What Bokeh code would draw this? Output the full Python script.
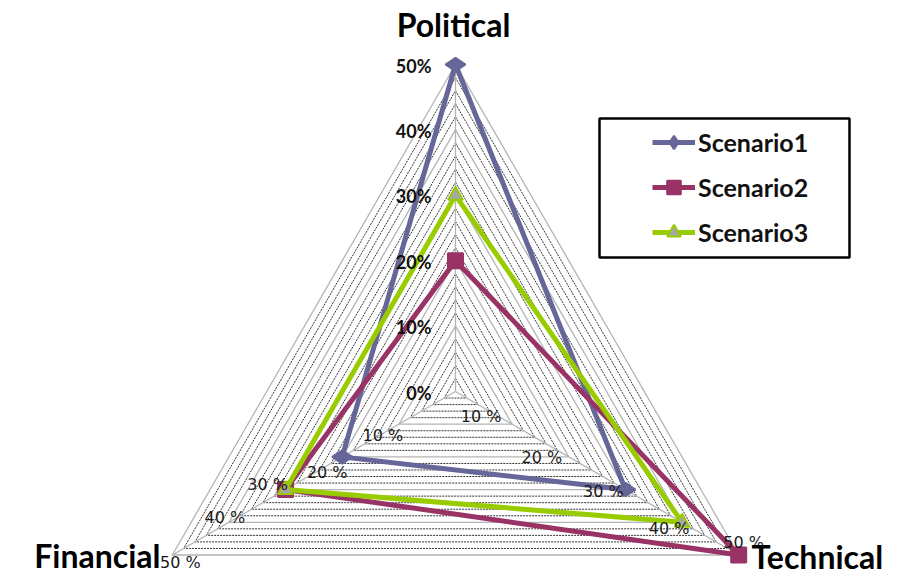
import numpy as np
from bokeh.plotting import figure
from bokeh.models import Legend, LegendItem
from bokeh.embed import file_html
from bokeh.resources import INLINE
from bokeh.core.properties import value

# ---------------- data ----------------
axis_names = ["Political", "Technical", "Financial"]
series_names = ["Scenario1", "Scenario2", "Scenario3"]
scenario1 = [50, 30, 20]
scenario2 = [20, 50, 30]
scenario3 = [30, 40, 30]
tick_values = [0, 10, 20, 30, 40, 50]
political_tick_labels = ["0%", "10%", "20%", "30%", "40%", "50%"]
other_tick_values = [10, 20, 30, 40, 50]
other_tick_labels = ["10 %", "20 %", "30 %", "40 %", "50 %"]
r_max = 50
minor_step = 2

# ---------------- layout ----------------
W, H = 901, 575
cx, cy = 455.0, 391.0
R_px = 327.0
s = R_px / r_max  # px per unit


def px_to_data(px, py):
    return (px - cx) / s, (cy - py) / s


angles = np.deg2rad([90.0, -30.0, 210.0])


def point(r, k):
    return r * np.cos(angles[k]), r * np.sin(angles[k])


def triangle(r):
    xs = [point(r, k)[0] for k in range(3)] + [point(r, 0)[0]]
    ys = [point(r, k)[1] for k in range(3)] + [point(r, 0)[1]]
    return xs, ys


p = figure(width=W, height=H, output_backend="svg", toolbar_location=None,
           x_range=(-cx / s, (W - cx) / s), y_range=(-(H - cy) / s, cy / s),
           min_border=0)
p.axis.visible = False
p.grid.visible = False
p.outline_line_color = None
p.background_fill_color = "white"
p.border_fill_color = "white"

# minor grid (dashed)
minor_levels = [v for v in range(minor_step, r_max, minor_step) if v % 10 != 0]
mx, my = [], []
for v in minor_levels:
    a, b = triangle(v)
    mx.append(a); my.append(b)
p.multi_line(mx, my, line_color="#333333", line_width=1, line_dash="2 1")

# major grid (solid gray)
Mx, My = [], []
for v in tick_values[1:]:
    a, b = triangle(v)
    Mx.append(a); My.append(b)
p.multi_line(Mx, My, line_color="#b4b4b4", line_width=1.3)

# spokes
sx = [[0, point(r_max, k)[0]] for k in range(3)]
sy = [[0, point(r_max, k)[1]] for k in range(3)]
p.multi_line(sx, sy, line_color="#b4b4b4", line_width=1.3)

# series
colors = ["#666699", "#993366", "#99CC00"]
markers = ["diamond", "square", "triangle"]
fills = ["#666699", "#993366", "#A6A6A6"]
sizes = [20, 15, 15]
angles_m = [np.pi / 2, 0, 0]
items = []
for name, vals, col, mk, fc, sz, ang in zip(series_names, [scenario1, scenario2, scenario3],
                                            colors, markers, fills, sizes, angles_m):
    pts = [point(v, k) for k, v in enumerate(vals)]
    xs = [q[0] for q in pts] + [pts[0][0]]
    ys = [q[1] for q in pts] + [pts[0][1]]
    ln = p.line(xs, ys, line_color=col, line_width=5, line_join="miter")
    sc = p.scatter([q[0] for q in pts], [q[1] for q in pts], marker=mk, size=sz,
                   fill_color=fc, line_color=col, line_width=2, angle=ang)
    items.append(LegendItem(label=name, renderers=[ln, sc]))

# legend box
bx0, by0 = px_to_data(599, 257)
bx1, by1 = px_to_data(849, 118)
p.quad(left=bx0, right=bx1, bottom=by0, top=by1, fill_color="white",
       line_color="black", line_width=2.5, level="underlay")

legend = Legend(items=items, location=(652, 575 - 249), padding=0, margin=0,
                glyph_width=43, glyph_height=34, label_height=34, spacing=11,
                label_standoff=3, border_line_color=None, background_fill_alpha=0,
                label_text_font="Lato", label_text_font_size="25px",
                label_text_font_style="bold", label_text_color="#111111")
p.add_layout(legend, "center")

# political tick labels
ptx = [point(v, 0)[0] for v in tick_values]
pty = [point(v, 0)[1] for v in tick_values]
p.text(ptx, pty, text=political_tick_labels, x_offset=-24, y_offset=1,
       text_align="right", text_baseline="middle", text_font=value("Lato"),
       text_font_size="18px", text_font_style="bold", text_color="#111111")

# technical / financial tick labels (Excel-style placement offsets, px)
tech_off = [(-31, -8), (-27, 1), (-22, 2), (-13, 6), (5, -13)]
fin_off = [(-16, 11), (-15, 16), (-18, -5), (-4, -5), (8, 7)]
for k, offs in ((1, tech_off), (2, fin_off)):
    for v, lab, (ox, oy) in zip(other_tick_values, other_tick_labels, offs):
        x, y = point(v, k)
        p.text([x], [y], text=[lab], x_offset=ox, y_offset=oy,
               text_align="center", text_baseline="middle",
               text_font=value("DejaVu Sans"), text_font_size="16px",
               text_color="#1a1a1a")

# axis name labels (centred vertically on the cap height)
tx, ty = px_to_data(453, 24)
p.text([tx], [ty], text=[axis_names[0]], text_align="center", text_baseline="middle",
       text_font=value("Lato"), text_font_size="32px", text_font_style="bold", text_color="black")
tx, ty = px_to_data(751, 556)
p.text([tx], [ty], text=[axis_names[1]], text_align="left", text_baseline="middle",
       text_font=value("Lato"), text_font_size="32px", text_font_style="bold", text_color="black")
tx, ty = px_to_data(160, 555)
p.text([tx], [ty], text=[axis_names[2]], text_align="right", text_baseline="middle",
       text_font=value("Lato"), text_font_size="32px", text_font_style="bold", text_color="black")

open("out.html", "w").write(file_html(p, INLINE))
